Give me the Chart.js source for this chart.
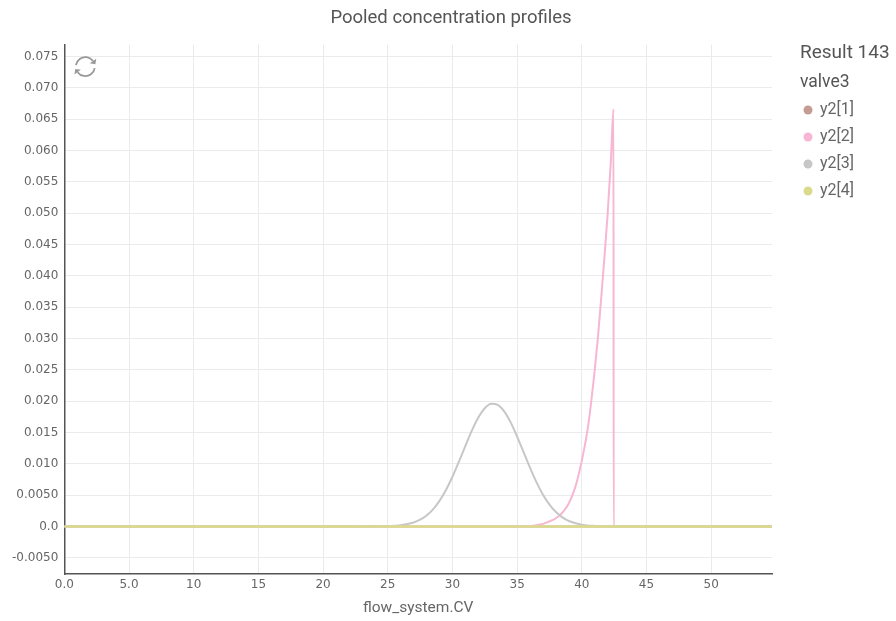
<!DOCTYPE html>
<html>
<head>
<meta charset="utf-8">
<title>Pooled concentration profiles</title>
<script src="https://cdn.jsdelivr.net/npm/chart.js@4/dist/chart.umd.min.js"></script>
<style>
  html, body { margin: 0; padding: 0; background: #fff; }
  #wrap { position: relative; width: 896px; height: 621px; }
</style>
</head>
<body>
<div id="wrap"><canvas id="profiles"></canvas></div>
<script>
var chartTitle = 'Pooled concentration profiles';
var resultName = 'Result 143';
var groupName = 'valve3';
var xTitle = 'flow_system.CV';

var seriesNames = ['y2[1]', 'y2[2]', 'y2[3]', 'y2[4]'];
var seriesColors = ['#c49c94', '#f7b6d2', '#c7c7c7', '#dbdb8d'];

// y2[1] and y2[4] stay at zero over the whole run
var y2_1_cv = [0.0, 54.7];
var y2_1_val = [0.0, 0.0];

var y2_2_cv = [0.0, 34.0, 35.0, 36.0, 36.5, 37.0, 37.5, 38.0, 38.5, 39.0, 39.5, 40.0, 40.5,
               41.0, 41.25, 41.5, 41.75, 42.0, 42.25, 42.45, 42.46, 54.7];
var y2_2_val = [0.0, 0.0, 0.00001, 0.00008, 0.0002, 0.0004, 0.0008, 0.0013, 0.0022, 0.0037, 0.0063, 0.0105, 0.0162,
                0.0250, 0.0303, 0.0365, 0.0430, 0.0500, 0.0585, 0.0666, 0.0, 0.0];

var y2_3_cv = [0.0, 22.0, 24.0, 25.0, 26.0, 27.0, 27.5, 28.0, 28.5, 29.0, 29.5, 30.0, 30.5, 31.0, 31.5,
               32.0, 32.5, 33.0, 33.5, 34.0, 34.5, 35.0, 35.5, 36.0, 36.5, 37.0, 37.5, 38.0, 38.5,
               39.0, 40.0, 41.0, 42.0, 44.0, 54.7];
var y2_3_val = [0.0, 0.0, 0.00001, 0.00005, 0.00018, 0.00062, 0.00106, 0.00174, 0.00272, 0.00407, 0.0058, 0.00792, 0.01033, 0.01285, 0.01528,
                0.01737, 0.01886, 0.01956, 0.01938, 0.01835, 0.0166, 0.01434, 0.01184, 0.00933, 0.00703, 0.00506, 0.00348, 0.00229, 0.00144,
                0.00086, 0.00027, 0.00007, 0.00002, 0.0, 0.0];

var y2_4_cv = [0.0, 54.7];
var y2_4_val = [0.0, 0.0];

var xTickValues = [0, 5, 10, 15, 20, 25, 30, 35, 40, 45, 50];
var xTickLabels = ['0.0', '5.0', '10', '15', '20', '25', '30', '35', '40', '45', '50'];
var yTickValues = [-0.005, 0, 0.005, 0.01, 0.015, 0.02, 0.025, 0.03, 0.035, 0.04, 0.045, 0.05, 0.055, 0.06, 0.065, 0.07, 0.075];
var yTickLabels = ['-0.0050', '0.0', '0.0050', '0.010', '0.015', '0.020', '0.025', '0.030', '0.035', '0.040', '0.045', '0.050', '0.055', '0.060', '0.065', '0.070', '0.075'];

var toPoints = function(cv, val){
    var pts = [];
    for(var i=0;i<cv.length;i++){
        pts.push({x: cv[i], y: val[i]});
    }
    return pts;
};

var makeSet = function(i, cv, val, width, order){
    return {
        label: seriesNames[i],
        data: toPoints(cv, val),
        borderColor: seriesColors[i],
        backgroundColor: seriesColors[i],
        borderWidth: width,
        pointRadius: 0,
        pointHoverRadius: 0,
        fill: false,
        cubicInterpolationMode: 'monotone',
        order: order
    };
};

// legend drawn in the right gutter, plus the reset icon in the plot corner
var sideLegend = {
    id: 'sideLegend',
    afterDraw: function(chart){
        var ctx = chart.ctx;
        var x = chart.chartArea.right + 28;
        ctx.save();
        ctx.textBaseline = 'middle';
        ctx.textAlign = 'left';
        ctx.fillStyle = '#555';
        ctx.font = '19px Roboto';
        ctx.fillText(resultName, x, 53);
        ctx.font = '17.5px Roboto';
        ctx.fillText(groupName, x, 83);
        chart.data.datasets.forEach(function(ds, i){
            var y = 110 + i * 27;
            ctx.fillStyle = ds.borderColor;
            ctx.beginPath();
            ctx.arc(x + 8, y, 4.5, 0, Math.PI * 2);
            ctx.fill();
            ctx.fillStyle = '#666';
            ctx.font = '16px Roboto';
            ctx.fillText(ds.label, x + 20, y);
        });

        // reset icon
        var cx = chart.chartArea.left + 21, cy = chart.chartArea.top + 22, r = 9.5;
        ctx.strokeStyle = '#999';
        ctx.fillStyle = '#999';
        ctx.lineWidth = 1.8;
        var arcs = [[Math.PI * 1.05, Math.PI * 1.8], [Math.PI * 0.05, Math.PI * 0.8]];
        arcs.forEach(function(a){
            ctx.beginPath();
            ctx.arc(cx, cy, r, a[0], a[1]);
            ctx.stroke();
            var ex = cx + r * Math.cos(a[1]), ey = cy + r * Math.sin(a[1]);
            var t = a[1] + Math.PI / 2;
            ctx.beginPath();
            ctx.moveTo(ex + 4 * Math.cos(t), ey + 4 * Math.sin(t));
            ctx.lineTo(ex + 4 * Math.cos(a[1]), ey + 4 * Math.sin(a[1]));
            ctx.lineTo(ex - 4 * Math.cos(a[1]), ey - 4 * Math.sin(a[1]));
            ctx.closePath();
            ctx.fill();
        });
        ctx.restore();
    }
};

var ctx = document.getElementById('profiles').getContext('2d');
new Chart(ctx, {
    type: 'line',
    data: {
        datasets: [
            makeSet(0, y2_1_cv, y2_1_val, 2, 4),
            makeSet(1, y2_2_cv, y2_2_val, 2, 3),
            makeSet(2, y2_3_cv, y2_3_val, 2, 2),
            makeSet(3, y2_4_cv, y2_4_val, 2.5, 1)
        ]
    },
    options: {
        responsive: true,
        maintainAspectRatio: false,
        animation: false,
        layout: { padding: { left: 6, bottom: 0, top: 0, right: 0 } },
        plugins: {
            legend: { display: false },
            tooltip: { enabled: false },
            title: {
                display: true,
                text: chartTitle,
                color: '#555',
                font: { family: 'Roboto', size: 18.5, weight: 'normal' },
                padding: { top: 7, bottom: 15.4 }
            }
        },
        scales: {
            x: {
                type: 'linear',
                min: 0,
                max: 54.7,
                afterBuildTicks: function(scale){
                    scale.ticks = xTickValues.map(function(v){ return {value: v}; });
                },
                ticks: {
                    color: '#666',
                    font: { family: 'DejaVu Sans', size: 12 },
                    padding: 4,
                    maxRotation: 0,
                    callback: function(v, i){ return xTickLabels[i]; }
                },
                grid: { color: '#ebebeb', drawTicks: false },
                border: { color: '#555', width: 1.5 },
                title: {
                    display: true,
                    text: xTitle,
                    color: '#666',
                    font: { family: 'Roboto', size: 15.5 },
                    padding: { top: 2, bottom: 4 }
                }
            },
            y: {
                type: 'linear',
                min: -0.0076,
                max: 0.0769,
                afterBuildTicks: function(scale){
                    scale.ticks = yTickValues.map(function(v){ return {value: v}; });
                },
                ticks: {
                    color: '#666',
                    font: { family: 'DejaVu Sans', size: 12 },
                    padding: 6,
                    callback: function(v, i){ return yTickLabels[i]; }
                },
                grid: { color: '#ebebeb', drawTicks: false },
                border: { color: '#555', width: 1.5 }
            },
            gutter: {
                type: 'linear',
                position: 'right',
                display: true,
                ticks: { display: false },
                grid: { display: false, drawTicks: false },
                border: { display: false },
                afterFit: function(scale){ scale.width = 124; }
            }
        }
    },
    plugins: [sideLegend]
});
</script>
</body>
</html>
